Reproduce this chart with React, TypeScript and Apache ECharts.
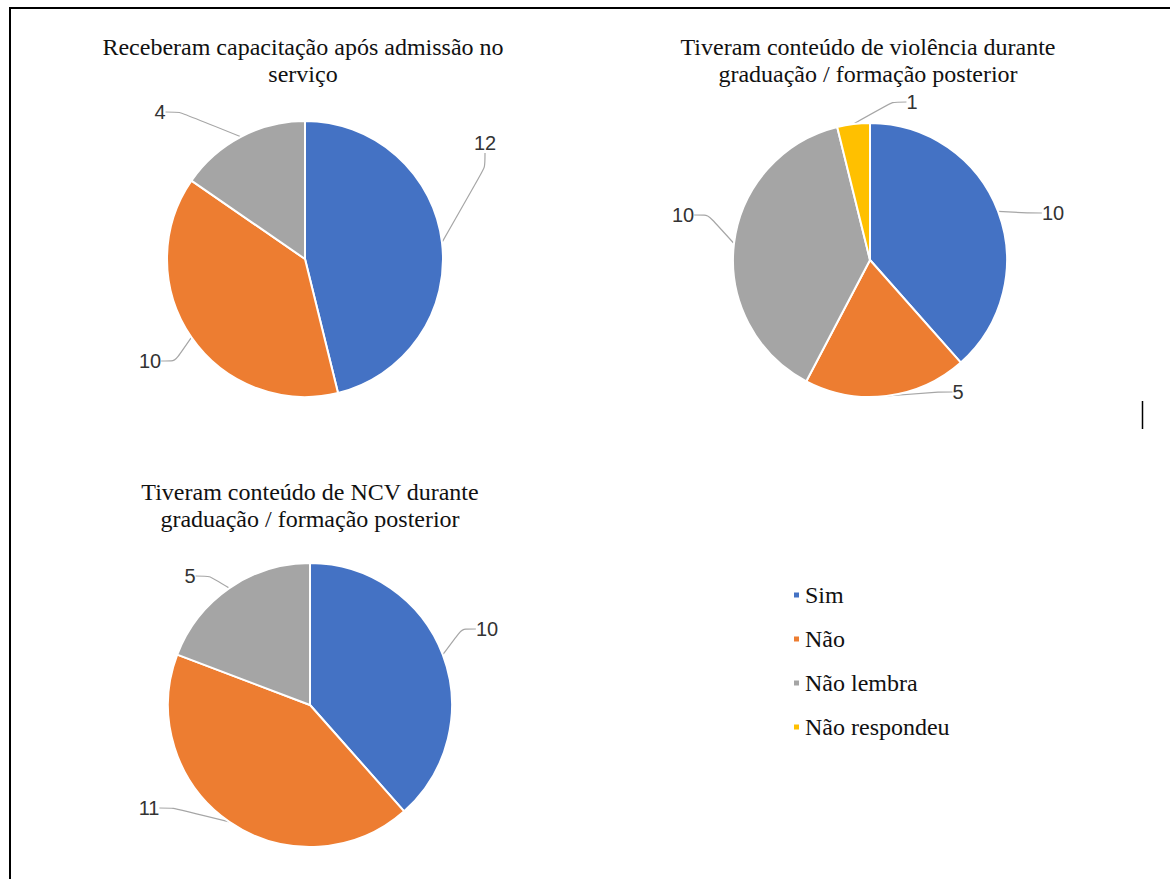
import React, { useEffect, useRef } from "react";
import * as echarts from "echarts";

// Response categories shared by all three pies
const categories = ["Sim", "Não", "Não lembra", "Não respondeu"];
const palette = ["#4472C4", "#ED7D31", "#A5A5A5", "#FFC000"];

// Counts per question
const capacitacaoValues = [12, 10, 4];
const violenciaValues = [10, 5, 10, 1];
const ncvValues = [10, 11, 5];

const titleCapacitacao = "Receberam capacitação após admissão no\nserviço";
const titleViolencia = "Tiveram conteúdo de violência durante\ngraduação / formação posterior";
const titleNcv = "Tiveram conteúdo de NCV durante\ngraduação / formação posterior";

// Pie geometry (pixels) and label offsets from each pie's centre
const pies = [
  { values: capacitacaoValues, center: [305, 259], radius: 138, title: titleCapacitacao, titleX: 298, titleTop: 28,
    labelOffsets: [[180, -116], [-155, 102], [-145, -147]] },
  { values: violenciaValues, center: [870, 260], radius: 137, title: titleViolencia, titleX: 863, titleTop: 28,
    labelOffsets: [[183, -47], [88, 132], [-187, -45], [42, -158]] },
  { values: ncvValues, center: [310, 705], radius: 142, title: titleNcv, titleX: 305, titleTop: 473,
    labelOffsets: [[177, -76], [-161, 103], [-120, -129]] },
];

const SERIF = "'Liberation Serif', 'Times New Roman', serif";
const SANS = "'Liberation Sans', Arial, sans-serif";

export default function App() {
  const ref = useRef<HTMLDivElement>(null);

  useEffect(() => {
    document.body.style.margin = "0";
    const chart = echarts.init(ref.current!, null, { renderer: "svg" });

    const series = pies.map((p) => ({
      type: "pie",
      center: p.center,
      radius: p.radius,
      startAngle: 90,
      clockwise: true,
      avoidLabelOverlap: false,
      itemStyle: { borderColor: "#ffffff", borderWidth: 2 },
      label: {
        show: true,
        position: "outside",
        formatter: "{c}",
        color: "#333333",
        fontFamily: SANS,
        fontSize: 20,
      },
      labelLine: {
        show: true,
        length: 10,
        length2: 14,
        smooth: 0.2,
        lineStyle: { color: "#A6A6A6", width: 1.2 },
      },
      labelLayout: (params: any) => {
        const off = p.labelOffsets[params.dataIndex];
        return {
          x: p.center[0] + off[0],
          y: p.center[1] + off[1],
          align: "center",
          verticalAlign: "middle",
        };
      },
      emphasis: { disabled: true },
      data: p.values.map((v, i) => ({
        name: categories[i],
        value: v,
        itemStyle: { color: palette[i] },
      })),
    }));

    chart.setOption({
      animation: false,
      backgroundColor: "#ffffff",
      color: palette,
      title: pies.map((p) => ({
        text: p.title,
        left: p.titleX,
        top: p.titleTop,
        textAlign: "center",
        textStyle: {
          fontFamily: SERIF,
          fontSize: 24,
          fontWeight: "normal",
          color: "#111111",
          lineHeight: 27,
        },
      })),
      legend: {
        orient: "vertical",
        left: 787,
        top: 578,
        itemGap: 20,
        itemWidth: 7,
        itemHeight: 7,
        icon: "rect",
        data: categories,
        textStyle: {
          fontFamily: SERIF,
          fontSize: 24,
          color: "#111111",
        },
      },
      graphic: [
        { type: "line", shape: { x1: 9, y1: 8, x2: 1170, y2: 8 }, style: { stroke: "#000", lineWidth: 2 } },
        { type: "line", shape: { x1: 10, y1: 8, x2: 10, y2: 879 }, style: { stroke: "#000", lineWidth: 2 } },
        { type: "line", shape: { x1: 1142.5, y1: 401, x2: 1142.5, y2: 429 }, style: { stroke: "#000", lineWidth: 1.5 } },
      ],
      series,
    });

    return () => chart.dispose();
  }, []);

  return <div ref={ref} style={{ width: 1170, height: 879 }} />;
}
